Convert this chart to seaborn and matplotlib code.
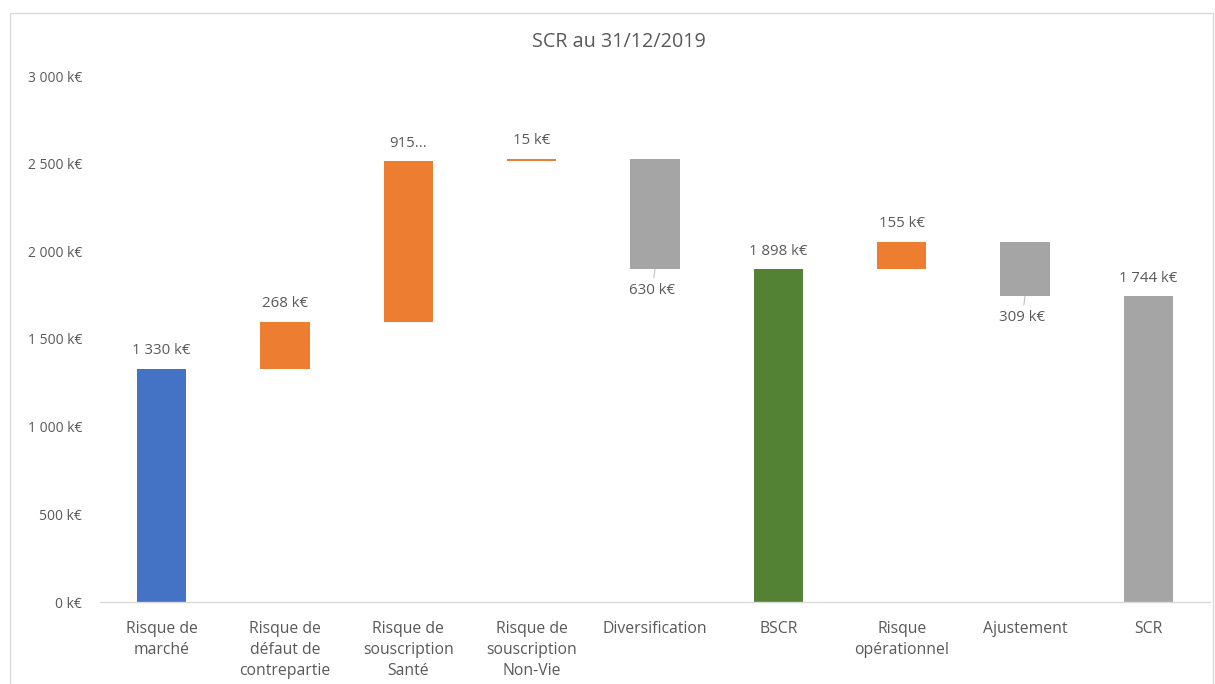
import numpy as np
import pandas as pd
import matplotlib.pyplot as plt
import seaborn as sns
from matplotlib.patches import Rectangle
from matplotlib.ticker import FuncFormatter, MultipleLocator

categories = ["Risque de\nmarché", "Risque de\ndéfaut de\ncontrepartie",
              "Risque de\nsouscription\nSanté", "Risque de\nsouscription\nNon-Vie",
              "Diversification", "BSCR", "Risque\nopérationnel", "Ajustement", "SCR"]
values = [1330, 268, 915, 15, -630, 1898, 155, -309, 1744]
is_total = [True, False, False, False, False, True, False, False, True]
bar_colors = ["#4472C4", "#ED7D31", "#ED7D31", "#ED7D31", "#A5A5A5",
              "#548235", "#ED7D31", "#A5A5A5", "#A5A5A5"]


def fmt(v):
    return f"{int(abs(v)):,} k€".replace(",", " ")


labels = [fmt(v) for v in values]
labels[2] = "915..."  # label truncated in the original chart

# waterfall geometry from the values
bottoms, tops = [], []
running = 0
for v, tot in zip(values, is_total):
    if tot:
        b, t = 0, v
        running = v
    else:
        b, t = (running, running + v) if v >= 0 else (running + v, running)
        running += v
    bottoms.append(b)
    tops.append(t)

df = pd.DataFrame({"cat": categories, "height": np.subtract(tops, bottoms), "bottom": bottoms})

sns.set_theme(style="white")
plt.rcParams["font.family"] = ["Open Sans", "DejaVu Sans"]
text_col = "#595959"

fig = plt.figure(figsize=(12.15, 6.84), dpi=100)
ax = fig.add_axes([100 / 1215, 82 / 684, 1110 / 1215, 526 / 684])

sns.barplot(data=df, x="cat", y="height", bottom=df["bottom"].values, width=0.40,
            color="#A5A5A5", errorbar=None, ax=ax, linewidth=0)
for patch, c in zip(ax.patches, bar_colors):
    patch.set_facecolor(c)

for i, (v, b, t, lab) in enumerate(zip(values, bottoms, tops, labels)):
    if v >= 0:
        ax.annotate(lab, xy=(i, t), xytext=(0, 13), textcoords="offset points",
                    ha="center", va="center", fontsize=10.8, color=text_col)
    else:
        ax.annotate(lab, xy=(i, b), xytext=(-2, -15), textcoords="offset points",
                    ha="center", va="center", fontsize=10.8, color=text_col,
                    arrowprops=dict(arrowstyle="-", color="#BFBFBF", lw=0.8,
                                    shrinkA=1, shrinkB=0))

ax.set_ylim(0, 3000)
ax.set_xlim(-0.5, len(categories) - 0.5)
ax.yaxis.set_major_locator(MultipleLocator(500))
ax.yaxis.set_major_formatter(FuncFormatter(lambda v, _: fmt(v)))
ax.set_xlabel("")
ax.set_ylabel("")
ax.tick_params(axis="both", length=0, colors=text_col)
ax.tick_params(axis="x", pad=14, labelsize=11.3)
ax.tick_params(axis="y", pad=13, labelsize=10)
for lab in ax.get_xticklabels():
    lab.set_linespacing(1.4)
    lab.set_va("top")

sns.despine(ax=ax, left=True)
ax.spines["bottom"].set_color("#D9D9D9")
ax.spines["bottom"].set_linewidth(1)

fig.text(619 / 1215, 1 - 42 / 684, "SCR au 31/12/2019", ha="center", va="center",
         fontsize=14.2, color=text_col)

fig.patches.append(Rectangle((10 / 1215, -0.05), 1203 / 1215, 1.05 - 13 / 684,
                             transform=fig.transFigure, fill=False,
                             edgecolor="#D9D9D9", linewidth=1))

fig.savefig("out.png", dpi=100)
